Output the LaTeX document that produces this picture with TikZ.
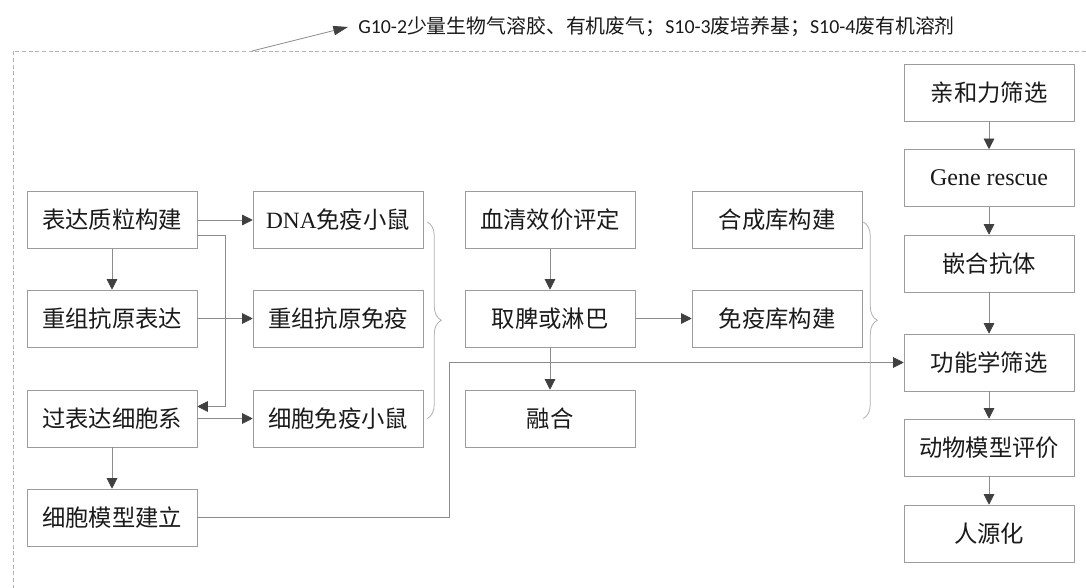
\documentclass[tikz,border=0pt]{standalone}
\usepackage{fontspec}
\setmainfont{Liberation Serif}
\newfontfamily\cjk{Noto Sans CJK SC}
\newfontfamily\calfont{Carlito}
\usetikzlibrary{positioning}
\usetikzlibrary{arrows.meta}
\usetikzlibrary{calc}
\usetikzlibrary{decorations.pathreplacing}
\definecolor{boxgray}{HTML}{9C9C9C}
\definecolor{linegray}{HTML}{8C8C8C}
\definecolor{dashgray}{HTML}{B4B4B4}
\definecolor{tipgray}{HTML}{404040}
\definecolor{textgray}{HTML}{1A1A1A}

\begin{document}
\begin{tikzpicture}[x=0.75pt, y=-0.75pt]
\useasboundingbox[fill=white] (0,0) rectangle (1086,588);

\begin{scope}
    \draw[dashgray, dash pattern=on 3pt off 2pt]  (1086, 51) -- (13, 51) -- (13, 588);
\end{scope}

\begin{scope}
  \node[anchor=west, inner sep=0pt, text=textgray, font=\cjk\fontsize{14.9}{17}\selectfont] (0) at (358, 27)
    {{\calfont G10-2}少量生物气溶胶、有机废气；{\calfont S10-3}废培养基；{\calfont S10-4}废有机溶剂};
  \coordinate (f) at (252, 51);
\end{scope}

\begin{scope}[every node/.style={draw=boxgray, minimum width=127.5pt, minimum height=42.75pt,
              inner sep=0pt, text=textgray, font=\cjk\fontsize{17.5}{20}\selectfont}]
  \node (1) at (112, 220) {表达质粒构建};
  \node (2) at (112, 318.5) {重组抗原表达};
  \node (3) at (112, 418.5) {过表达细胞系};
  \node (4) at (112, 517.5) {细胞模型建立};
  \node (5) at (338, 220) {{\rmfamily DNA}免疫小鼠};
  \node (6) at (338, 318.5) {重组抗原免疫};
  \node (7) at (338, 418.5) {细胞免疫小鼠};
  \node (8) at (550, 220) {血清效价评定};
  \node (9) at (550, 318.5) {取脾或淋巴};
  \node (10) at (550, 418.5) {融合};
  \node (11) at (777, 220) {合成库构建};
  \node (12) at (777, 318.5) {免疫库构建};
  \node (13) at (989, 92.5) {亲和力筛选};
  \node (14) at (989, 178) {{\rmfamily\fontsize{18}{20}\selectfont Gene rescue}};
  \node (15) at (989, 263.5) {嵌合抗体};
  \node (16) at (989, 362.5) {功能学筛选};
  \node (17) at (989, 447.5) {动物模型评价};
  \node (18) at (989, 533.5) {人源化};
\end{scope}

\begin{scope}[>={Triangle[length=8pt, width=8pt, color=tipgray, fill=tipgray]},
              every edge/.style={draw=linegray, line width=0.6pt}]
    \path [->] (1) edge (5);
    \path [->] (1) edge (2);
    \path [->] (2) edge (6);
    \path [->] (3) edge (7);
    \path [->] (3) edge (4);
    \path [->] (8) edge (9);
    \path [->] (9) edge (10);
    \path [->] (9) edge (12);
    \path [->] (13) edge (14);
    \path [->] (14) edge (15);
    \path [->] (15) edge (16);
    \path [->] (16) edge (17);
    \path [->] (17) edge (18);
    \draw [->, linegray, line width=0.6pt] ($(1.east)+(0,15)$) -- ++(28,0) |- ($(3.east)+(0,-12)$);
    \draw [->, linegray, line width=0.6pt] (4.east) -- ++(252,0) |- (16.west);
    \draw [-{Triangle[length=11pt, width=7pt, color=tipgray, fill=tipgray]}, linegray, line width=0.6pt]
        (f) -- ($(0.west)+(-10,0)$);
\end{scope}

\begin{scope}[every path/.style={draw=boxgray!80, line width=0.6pt, decorate,
              decoration={brace, amplitude=10.5pt}}]
    \path ($(5.east)+(4,2)$) -- ($(7.east)+(4,0)$);
    \path ($(11.east)+(1,2)$) -- ($(11.east |- 10.east)+(1,0)$);
\end{scope}
\end{tikzpicture}
\end{document}
